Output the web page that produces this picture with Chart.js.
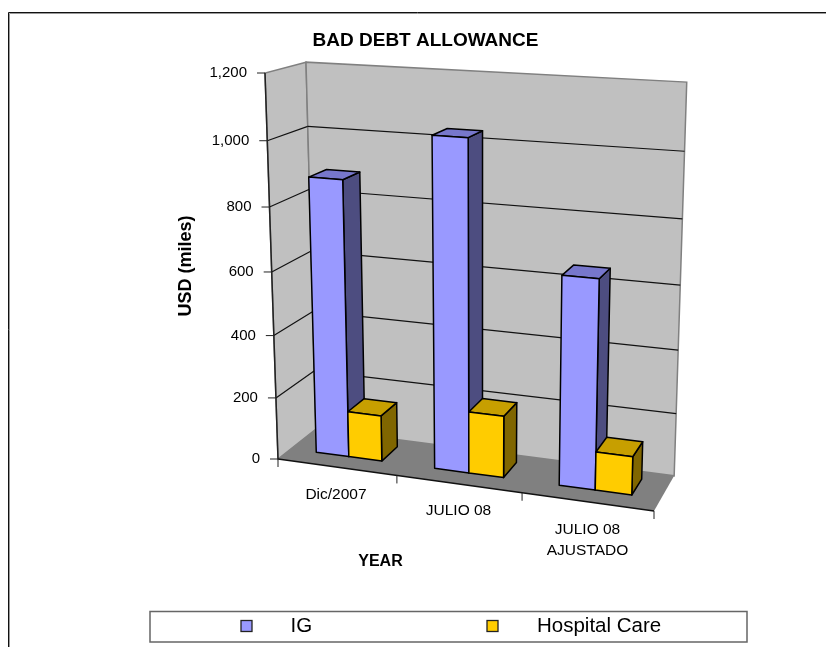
<!DOCTYPE html>
<html>
<head>
<meta charset="utf-8">
<title>Bad debt allowance</title>
<script src="https://cdn.jsdelivr.net/npm/chart.js@4"></script>
<style>
  html, body { margin: 0; padding: 0; background: #fff; overflow: hidden; }
  #wrap { width: 826px; height: 647px; }
</style>
</head>
<body>
<div id="wrap"><canvas id="graficoDebt"></canvas></div>
<script>
// Data
const categories = ['Dic/2007', 'JULIO 08', ['JULIO 08', 'AJUSTADO']];
const igValues = [880, 1032, 648];
const hospitalCareValues = [148, 196, 120];
const valueTicks = [0, 200, 400, 600, 800, 1000, 1200];

// Bar face colours: front, top, side
const igColors = ['#9999ff', '#7777cc', '#4d4d80'];
const hospitalColors = ['#ffcc00', '#c79f00', '#806600'];

// Corners of the 3D box on screen
const origin = [278, 459];    // front left bottom
const frontRight = [654, 511];
const frontTop = [265, 73];
const backLeft = [316, 429];
// perspective weights for the three box edges
const weightX = 0.925, weightY = 0.94, weightZ = 1.054;
// depth span of the bars inside the box
const barDepth = [0.33, 0.79];

function project(u, v, w) {
  const rest = 1 - u - v - w;
  const hx = rest * origin[0] + u * weightX * frontRight[0] + v * weightY * frontTop[0] + w * weightZ * backLeft[0];
  const hy = rest * origin[1] + u * weightX * frontRight[1] + v * weightY * frontTop[1] + w * weightZ * backLeft[1];
  const hw = rest + u * weightX + v * weightY + w * weightZ;
  return [hx / hw, hy / hw];
}

function poly(ctx, pts, fill, stroke, lineWidth) {
  ctx.beginPath();
  pts.forEach((p, i) => i ? ctx.lineTo(p[0], p[1]) : ctx.moveTo(p[0], p[1]));
  ctx.closePath();
  if (fill) { ctx.fillStyle = fill; ctx.fill(); }
  if (stroke) { ctx.strokeStyle = stroke; ctx.lineWidth = lineWidth; ctx.stroke(); }
}

function line(ctx, a, b, color, lineWidth) {
  ctx.beginPath();
  ctx.moveTo(a[0], a[1]);
  ctx.lineTo(b[0], b[1]);
  ctx.strokeStyle = color;
  ctx.lineWidth = lineWidth;
  ctx.stroke();
}

function label(ctx, text, x, y, font, align) {
  ctx.font = font;
  ctx.textAlign = align || 'center';
  ctx.textBaseline = 'middle';
  ctx.fillStyle = '#000';
  ctx.fillText(text, x, y);
}

// Walls, floor, gridlines and axes
function drawBox(chart) {
  const ctx = chart.ctx;
  const yScale = chart.scales.y;
  const area = chart.chartArea;
  const toV = val => (area.bottom - yScale.getPixelForValue(val)) / area.height;

  ctx.save();
  ctx.lineJoin = 'miter';
  poly(ctx, [project(0, 0, 0), project(0, 1, 0), project(0, 1, 1), project(0, 0, 1)], '#c0c0c0', '#808080', 1.5);
  poly(ctx, [project(0, 0, 1), project(0, 1, 1), project(1, 1, 1), project(1, 0, 1)], '#c0c0c0', '#808080', 1.5);
  poly(ctx, [project(0, 0, 0), project(0, 0, 1), project(1, 0, 1), project(1, 0, 0)], '#808080');

  yScale.ticks.forEach(t => {
    const v = toV(t.value);
    if (t.value > 0 && t.value < yScale.max) {
      line(ctx, project(0, v, 0), project(0, v, 1), '#111', 1.2);
      line(ctx, project(0, v, 1), project(1, v, 1), '#111', 1.2);
    }
    const p = project(0, v, 0);
    line(ctx, [p[0] - 8, p[1]], p, '#222', 1);
    label(ctx, t.label, p[0] - 18, p[1], '15px "Liberation Sans"', 'right');
  });

  // axis lines on the front edges
  line(ctx, project(0, 0, 0), project(0, 1, 0), '#222', 1.5);
  line(ctx, project(0, 0, 0), project(1, 0, 0), '#111', 1.5);

  // category ticks
  const n = categories.length;
  for (let i = 0; i <= n; i++) {
    const p = project(i / n, 0, 0);
    line(ctx, p, [p[0], p[1] + 8], '#222', 1);
  }
  ctx.restore();
}

function drawBars(chart) {
  const ctx = chart.ctx;
  const area = chart.chartArea;
  const palettes = [igColors, hospitalColors];
  ctx.save();
  ctx.lineJoin = 'round';
  chart.data.labels.forEach((_, i) => {
    chart.data.datasets.forEach((ds, d) => {
      const bar = chart.getDatasetMeta(d).data[i];
      const u0 = (bar.x - bar.width / 2 - area.left) / area.width;
      const u1 = (bar.x + bar.width / 2 - area.left) / area.width;
      const v0 = (area.bottom - bar.base) / area.height;
      const v1 = (area.bottom - bar.y) / area.height;
      const w0 = barDepth[0], w1 = barDepth[1];
      const c = palettes[d];
      poly(ctx, [project(u1, v0, w0), project(u1, v1, w0), project(u1, v1, w1), project(u1, v0, w1)], c[2], '#000', 1.5);
      poly(ctx, [project(u0, v1, w0), project(u0, v1, w1), project(u1, v1, w1), project(u1, v1, w0)], c[1], '#000', 1.5);
      poly(ctx, [project(u0, v0, w0), project(u0, v1, w0), project(u1, v1, w0), project(u1, v0, w0)], c[0], '#000', 1.5);
    });
  });
  ctx.restore();
}

function drawText(chart) {
  const ctx = chart.ctx;
  const xFont = '15.5px "Liberation Sans"';
  const labelPos = [[336, 495], [458.5, 511], [587.5, 530]];
  categories.forEach((cat, i) => {
    const rows = Array.isArray(cat) ? cat : [cat];
    rows.forEach((row, r) => label(ctx, row, labelPos[i][0], labelPos[i][1] + r * 21, xFont, 'center'));
  });
  label(ctx, 'BAD DEBT ALLOWANCE', 425.5, 41, 'bold 19px "Liberation Sans"');
  label(ctx, 'YEAR', 380.5, 562, 'bold 16px "Liberation Sans"');
  ctx.save();
  ctx.translate(186, 266);
  ctx.rotate(-Math.PI / 2);
  label(ctx, 'USD (miles)', 0, 0, 'bold 18px "Liberation Sans"');
  ctx.restore();
}

function drawLegend(chart) {
  const ctx = chart.ctx;
  poly(ctx, [[150, 611.5], [747, 611.5], [747, 642], [150, 642]], '#fff', '#666', 1.5);
  const slots = [[241, 290.5], [487, 537]];
  chart.data.datasets.forEach((ds, d) => {
    ctx.fillStyle = ds.backgroundColor;
    ctx.fillRect(slots[d][0], 620.5, 11, 11);
    ctx.strokeStyle = '#222';
    ctx.lineWidth = 1.3;
    ctx.strokeRect(slots[d][0], 620.5, 11, 11);
    label(ctx, ds.label, slots[d][1], 626, '20.5px "Liberation Sans"', 'left');
  });
}

const box3d = {
  id: 'box3d',
  beforeDraw(chart) {
    const ctx = chart.ctx;
    ctx.save();
    ctx.fillStyle = '#fff';
    ctx.fillRect(0, 0, chart.width, chart.height);
    // outer frame, only left and top edges fall inside the canvas
    ctx.lineWidth = 1;
    ctx.strokeStyle = '#999';
    ctx.beginPath();
    ctx.moveTo(9.5, chart.height);
    ctx.lineTo(9.5, 13.5);
    ctx.lineTo(chart.width, 13.5);
    ctx.stroke();
    ctx.strokeStyle = '#111';
    ctx.beginPath();
    ctx.moveTo(8.5, chart.height);
    ctx.lineTo(8.5, 12.5);
    ctx.lineTo(chart.width, 12.5);
    ctx.stroke();
    ctx.restore();
  },
  beforeDatasetsDraw(chart) {
    drawBox(chart);
    drawBars(chart);
    drawText(chart);
    drawLegend(chart);
    return false; // the 3D faces replace the flat bars
  }
};

new Chart(document.getElementById('graficoDebt').getContext('2d'), {
  type: 'bar',
  data: {
    labels: categories,
    datasets: [
      { label: 'IG', data: igValues, backgroundColor: igColors[0], categoryPercentage: 0.56, barPercentage: 1 },
      { label: 'Hospital Care', data: hospitalCareValues, backgroundColor: hospitalColors[0], categoryPercentage: 0.56, barPercentage: 1 }
    ]
  },
  options: {
    responsive: true,
    maintainAspectRatio: false,
    animation: false,
    layout: { padding: 0 },
    plugins: { legend: { display: false }, title: { display: false }, tooltip: { enabled: false } },
    scales: {
      x: { display: false },
      y: {
        display: false,
        min: valueTicks[0],
        max: valueTicks[valueTicks.length - 1],
        afterBuildTicks(scale) { scale.ticks = valueTicks.map(v => ({ value: v })); },
        ticks: { callback: v => v.toLocaleString('en-US') }
      }
    }
  },
  plugins: [box3d]
});
</script>
</body>
</html>
